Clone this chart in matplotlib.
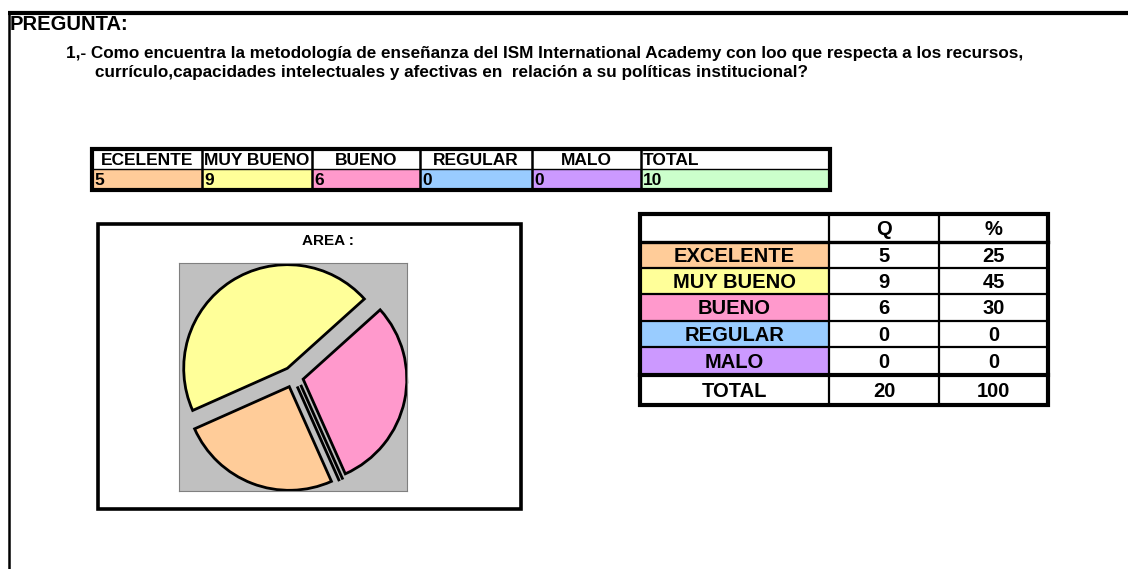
import matplotlib
matplotlib.use("Agg")
import matplotlib.pyplot as plt
import matplotlib.transforms as mtransforms
from matplotlib.patches import Rectangle

plt.rcParams['font.family'] = ['Liberation Sans', 'DejaVu Sans']

# datos
titulo = "PREGUNTA:"
pregunta_1 = "1,- Como encuentra la metodología de enseñanza del ISM International Academy con loo que respecta a los recursos,"
pregunta_2 = "currículo,capacidades intelectuales y afectivas en  relación a su políticas institucional?"

cabecera_sup = ["ECELENTE", "MUY BUENO", "BUENO", "REGULAR", "MALO", "TOTAL"]
valores_sup = [5, 9, 6, 0, 0, 10]

categorias = ["EXCELENTE", "MUY BUENO", "BUENO", "REGULAR", "MALO"]
cantidades = [5, 9, 6, 0, 0]
porcentajes = [25, 45, 30, 0, 0]
total_q = 20
total_pct = 100

colores = ["#FFCC99", "#FFFF99", "#FF99CC", "#99CCFF", "#CC99FF"]
color_total = "#CCFFCC"

W, H = 1128, 569
fig = plt.figure(figsize=(W / 100, H / 100), dpi=100)
ax = fig.add_axes([0, 0, 1, 1])
ax.set_xlim(0, W)
ax.set_ylim(H, 0)
ax.axis("off")

# marco de la hoja
ax.plot([8, W], [13, 13], color="black", lw=3, solid_capstyle="butt")
ax.plot([9, 9], [12, H], color="black", lw=1.8, solid_capstyle="butt")

ax.text(10, 24, titulo, fontsize=14.5, fontweight="bold", va="center", ha="left")
ax.text(66, 53, pregunta_1, fontsize=12.3, fontweight="bold", va="center", ha="left")
ax.text(95, 72, pregunta_2, fontsize=12.3, fontweight="bold", va="center", ha="left")

# tabla superior
xs = [92, 202, 312, 420, 532, 641, 830]
y0, y1, y2 = 149, 169, 190
alin = ["center", "left", "center", "center", "center", "left"]
colores_sup = colores + [color_total]
fs_sup = 12.5
for i, (cab, val) in enumerate(zip(cabecera_sup, valores_sup)):
    xa, xb = xs[i], xs[i + 1]
    ax.add_patch(Rectangle((xa, y1), xb - xa, y2 - y1, facecolor=colores_sup[i], edgecolor="none"))
    if alin[i] == "center":
        ax.text((xa + xb) / 2, (y0 + y1) / 2 + 1, cab, fontsize=fs_sup, fontweight="bold", ha="center", va="center")
    else:
        ax.text(xa + 2, (y0 + y1) / 2 + 1, cab, fontsize=fs_sup, fontweight="bold", ha="left", va="center")
    ax.text(xa + 2, (y1 + y2) / 2 + 1, str(val), fontsize=fs_sup, fontweight="bold", ha="left", va="center")
for x in xs[1:-1]:
    ax.plot([x, x], [y0, y2], color="black", lw=1.8)
ax.plot([xs[0], xs[-1]], [y1, y1], color="black", lw=1.0)
ax.add_patch(Rectangle((xs[0], y0), xs[-1] - xs[0], y2 - y0, facecolor="none", edgecolor="black", lw=3))

# tabla derecha
cx = [640, 829, 939, 1048]
ry = [214, 242, 268, 294, 321, 347, 375, 405]
fs = 14.5
ax.text((cx[1] + cx[2]) / 2, (ry[0] + ry[1]) / 2 + 1, "Q", fontsize=fs, fontweight="bold", ha="center", va="center")
ax.text((cx[2] + cx[3]) / 2, (ry[0] + ry[1]) / 2 + 1, "%", fontsize=fs, fontweight="bold", ha="center", va="center")
for i, (cat, q, p) in enumerate(zip(categorias, cantidades, porcentajes)):
    ya, yb = ry[i + 1], ry[i + 2]
    ax.add_patch(Rectangle((cx[0], ya), cx[1] - cx[0], yb - ya, facecolor=colores[i], edgecolor="none"))
    ym = (ya + yb) / 2 + 1
    ax.text((cx[0] + cx[1]) / 2, ym, cat, fontsize=fs, fontweight="bold", ha="center", va="center")
    ax.text((cx[1] + cx[2]) / 2, ym, str(q), fontsize=fs, fontweight="bold", ha="center", va="center")
    ax.text((cx[2] + cx[3]) / 2, ym, str(p), fontsize=fs, fontweight="bold", ha="center", va="center")
ym = (ry[6] + ry[7]) / 2 + 1
ax.text((cx[0] + cx[1]) / 2, ym, "TOTAL", fontsize=fs, fontweight="bold", ha="center", va="center")
ax.text((cx[1] + cx[2]) / 2, ym, str(total_q), fontsize=fs, fontweight="bold", ha="center", va="center")
ax.text((cx[2] + cx[3]) / 2, ym, str(total_pct), fontsize=fs, fontweight="bold", ha="center", va="center")
for x in cx[1:-1]:
    ax.plot([x, x], [ry[0], ry[-1]], color="black", lw=1.6)
for y in ry[2:-2]:
    ax.plot([cx[0], cx[-1]], [y, y], color="black", lw=1.6)
ax.plot([cx[0], cx[-1]], [ry[1], ry[1]], color="black", lw=2.4)
ax.plot([cx[0], cx[-1]], [ry[6], ry[6]], color="black", lw=3)
ax.add_patch(Rectangle((cx[0], ry[0]), cx[-1] - cx[0], ry[-1] - ry[0], facecolor="none", edgecolor="black", lw=3))

# cuadro del grafico
ax.add_patch(Rectangle((98, 224), 423, 285, facecolor="white", edgecolor="black", lw=2.6))
ax.text(328, 241, "AREA :", fontsize=11, fontweight="bold", ha="center", va="center")

# pastel
px0, py0, pw = 179, 263, 228
pax = fig.add_axes([px0 / W, 1 - (py0 + pw) / H, pw / W, pw / H])
wedges, _ = pax.pie(cantidades, colors=colores, explode=[0.1] * len(cantidades),
                    startangle=294, counterclock=False, radius=1.0, frame=True,
                    wedgeprops=dict(edgecolor="black", linewidth=2))
pax.set_facecolor("#C0C0C0")
for s in pax.spines.values():
    s.set_color("#808080")
    s.set_linewidth(0.8)
pax.set_xticks([])
pax.set_yticks([])
# separar un poco las porciones nulas para que se vean como doble linea
off = mtransforms.ScaledTranslation(0.035, 0.016, fig.dpi_scale_trans)
wedges[4].set_transform(wedges[4].get_transform() + off)
pax.set_xlim(-1.1, 1.1)
pax.set_ylim(-1.1, 1.1)
pax.set_aspect("auto")

fig.savefig("out.png", dpi=100)
